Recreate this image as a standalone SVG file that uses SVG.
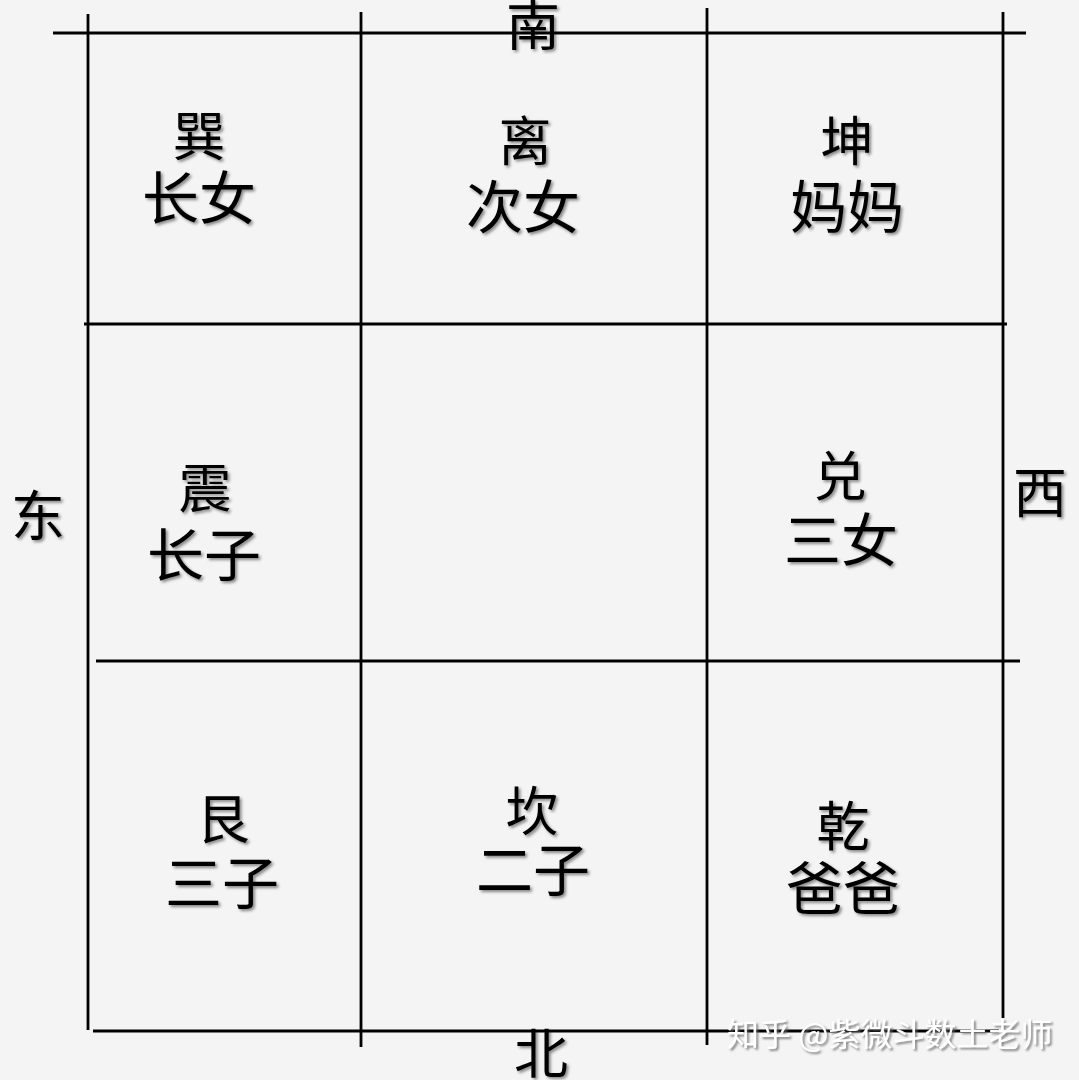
<svg xmlns="http://www.w3.org/2000/svg" width="1079" height="1080" viewBox="0 0 1079 1080">
<defs>
<filter id="sh" x="-20%" y="-20%" width="140%" height="140%">
<feDropShadow dx="2" dy="2" stdDeviation="1.5" flood-color="#000" flood-opacity="0.45"/>
</filter>
<filter id="wsh" x="-20%" y="-20%" width="140%" height="140%">
<feDropShadow dx="2" dy="2" stdDeviation="1" flood-color="#666" flood-opacity="0.8"/>
</filter>
</defs>
<style>
text{font-family:"Noto Sans CJK SC","Noto Sans CJK TC",sans-serif;font-weight:400;fill:#000;text-anchor:middle;filter:url(#sh)}
.t{font-size:53px}
.b{font-size:57px}
.d{font-size:54px}
.w{font-size:32px;fill:#fff;filter:url(#wsh);text-anchor:start}
line{stroke:#000;stroke-width:2.8}
</style>
<rect width="1079" height="1080" fill="#f4f4f4"/>
<g id="grid">
<line x1="53" y1="33" x2="1026" y2="33"/>
<line x1="84" y1="324" x2="1007" y2="324"/>
<line x1="96" y1="661" x2="1020" y2="661"/>
<line x1="93" y1="1031" x2="999" y2="1031"/>
<line x1="88" y1="14" x2="88" y2="1030"/>
<line x1="361" y1="12" x2="361" y2="1047"/>
<line x1="707" y1="8" x2="707" y2="1045"/>
<line x1="1003" y1="12" x2="1003" y2="1018"/>
</g>
<g id="xun"><text class="t" x="199" y="156">巽</text><text class="b" x="199" y="219">长女</text></g>
<g id="li"><text class="t" x="525" y="161">离</text><text class="b" x="523" y="228">次女</text></g>
<g id="kun"><text class="t" x="847" y="161">坤</text><text class="b" x="847" y="228">妈妈</text></g>
<g id="zhen"><text class="t" x="205" y="508">震</text><text class="b" x="204" y="576">长子</text></g>
<g id="dui"><text class="t" x="840" y="496">兑</text><text class="b" x="841" y="561">三女</text></g>
<g id="gen"><text class="t" x="223" y="839">艮</text><text class="b" x="222" y="904">三子</text></g>
<g id="kan"><text class="t" x="532" y="831">坎</text><text class="b" x="533" y="891">二子</text></g>
<g id="qian"><text class="t" x="843" y="846">乾</text><text class="b" x="843" y="909">爸爸</text></g>
<g id="dirs">
<text class="d" x="533" y="46">南</text>
<text class="d" x="541" y="1074">北</text>
<text class="d" x="38" y="536">东</text>
<text class="d" x="1040" y="513">西</text>
</g>
<text class="w" x="727" y="1046">知乎 @紫微斗数土老师</text>
</svg>
